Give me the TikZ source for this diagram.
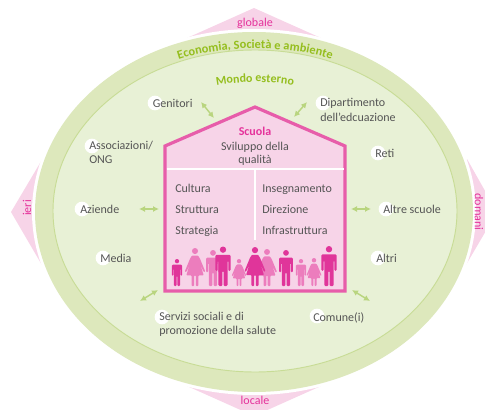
\documentclass[tikz,border=0pt]{standalone}
\usepackage{fontspec}
\setmainfont{Carlito}
\usetikzlibrary{decorations.text,arrows.meta}
\definecolor{ringg}{HTML}{DDE8BC}
\definecolor{innerg}{HTML}{E8F1D6}
\definecolor{lineg}{HTML}{C8DC96}
\definecolor{arrowg}{HTML}{B9D57F}
\definecolor{textg}{HTML}{95BE1E}
\definecolor{pinkf}{HTML}{F7D4E8}
\definecolor{pinkl}{HTML}{E75DAA}
\definecolor{pinkt}{HTML}{E5329B}
\definecolor{pdark}{HTML}{E0359A}
\definecolor{pmid}{HTML}{EC7DBD}
\definecolor{darkt}{HTML}{555555}
\newcommand\pman[4]{\begin{scope}[shift={(#1,#2)},scale=#3]
\fill[#4] (0,.08) circle (.08);
\fill[#4,rounded corners=.8pt] (-.19,.21) -- (.19,.21) -- (.19,.62) -- (.135,.62) -- (.135,.36) -- (.115,.36) -- (.115,1) -- (.015,1) -- (.015,.62) -- (-.015,.62) -- (-.015,1) -- (-.115,1) -- (-.115,.36) -- (-.135,.36) -- (-.135,.62) -- (-.19,.62) -- cycle;
\end{scope}}
\newcommand\pwoman[4]{\begin{scope}[shift={(#1,#2)},scale=#3]
\fill[#4] (0,.08) circle (.08);
\fill[#4,rounded corners=.6pt] (-.08,.2) -- (.08,.2) -- (.13,.28) -- (.27,.62) -- (.235,.64) -- (.14,.44) -- (.23,.72) -- (.09,.72) -- (.09,1) -- (.02,1) -- (.02,.72) -- (-.02,.72) -- (-.02,1) -- (-.09,1) -- (-.09,.72) -- (-.23,.72) -- (-.14,.44) -- (-.235,.64) -- (-.27,.62) -- (-.13,.28) -- cycle;
\end{scope}}
\tikzset{
  lab/.style={anchor=base west,text=darkt,font=\fontsize{9pt}{10.9pt}\selectfont,inner sep=0pt,align=left},
  hlab/.style={anchor=base,text=darkt,font=\fontsize{9pt}{10pt}\selectfont,inner sep=0pt,align=center},
  dot/.style={circle,fill=white,inner sep=0pt,minimum size=11pt},
  side/.style={text=pinkt,font=\fontsize{9pt}{10pt}\selectfont,inner sep=0pt},
  link/.style={draw=arrowg,line width=1.1pt,{Latex[length=4.5pt,width=4.5pt]}-{Latex[length=4.5pt,width=4.5pt]}},
}
\begin{document}
\begin{tikzpicture}[x=.75pt,y=-.75pt]
\useasboundingbox (0,0) rectangle (485,410);
\clip (0,0) rectangle (485,410);
% time/space triangles
\fill[pinkf] (254,8) -- (330,42) -- (178,42) -- cycle;
\fill[pinkf] (254,416) -- (330,382) -- (178,382) -- cycle;
\fill[pinkf] (11,212) -- (43,158) -- (46,272) -- cycle;
\fill[pinkf] (497,212) -- (467,159) -- (463,270) -- cycle;
\fill[white] (254,212) ellipse (222 and 183);
\fill[ringg] (254,212) ellipse (219 and 180);
\filldraw[fill=innerg,draw=lineg,line width=.7pt] (255,211) ellipse (202 and 161);
% curved titles
\path[postaction={decorate,decoration={text along path,text align=center,
  text={|\fontsize{9.3pt}{10pt}\selectfont\bfseries\color{textg}|Economia, Società e ambiente}}}]
  (170,62.5) .. controls (215,44) and (295,44) .. (340,62.5);
\path[postaction={decorate,decoration={text along path,text align=center,
  text={|\fontsize{9pt}{10pt}\selectfont\bfseries\color{textg}|Mondo esterno}}}]
  (205,88) .. controls (235,80) and (275,80) .. (305,88);
% side labels
\node[side] (globale) at (255,23) {globale};
\node[side] (locale) at (255,400) {locale};
\node[side,rotate=90] (ieri) at (27,208) {ieri};
\node[side,rotate=-90] (domani) at (479,212) {domani};
% house
\filldraw[fill=pinkf,draw=pinkl,line width=2.4pt,miter limit=4] (165,291) -- (165,146) -- (255,107) -- (345,146) -- (345,291) -- cycle;
\draw[white,line width=1.3pt] (166.5,169) -- (343.5,169);
\draw[white,line width=1.3pt] (255,169) -- (255,240);
\node[anchor=base,text=pinkt,font=\fontsize{9pt}{10pt}\selectfont\bfseries,inner sep=0pt] (scuola) at (255,135) {Scuola};
\node[hlab] (sviluppo) at (255,150) {Sviluppo della};
\node[hlab] (qualita) at (255,163) {qualità};
\node[lab] (cultura) at (175,192) {Cultura};
\node[lab] (struttura) at (175,213) {Struttura};
\node[lab] (strategia) at (175,234) {Strategia};
\node[lab] (insegn) at (262,192) {Insegnamento};
\node[lab] (direzione) at (262,213) {Direzione};
\node[lab] (infra) at (262,234) {Infrastruttura};
% people
\pman{177}{259}{27}{pdark}
\pwoman{195}{248}{38}{pmid}
\pman{213}{250}{36}{pmid}
\pman{223}{246.5}{39.5}{pdark}
\pwoman{239}{259}{27}{pmid}
\pwoman{267}{249}{37}{pmid}
\pwoman{255}{247}{39}{pdark}
\pman{286}{250}{36}{pdark}
\pman{301}{259}{27}{pmid}
\pwoman{314}{258}{28}{pmid}
\pman{329}{246}{40}{pdark}
% white dots behind labels
\node[dot] (d1) at (155,103) {};
\node[dot] (d2) at (92,146) {};
\node[dot] (d3) at (82,209) {};
\node[dot] (d4) at (103,258) {};
\node[dot] (d5) at (162,317) {};
\node[dot] (d6) at (317,316) {};
\node[dot] (d7) at (378,258) {};
\node[dot] (d8) at (386,209) {};
\node[dot] (d9) at (378,153) {};
\node[dot] (d10) at (323,103) {};
% outside labels
\node[lab] (genitori) at (152.5,107) {Genitori};
\node[lab,anchor=north west] (assoc) at (89,140.5) {Associazioni/\\ONG};
\node[lab] (aziende) at (80,213) {Aziende};
\node[lab] (media) at (100,262) {Media};
\node[lab,anchor=north west] (servizi) at (159,311.5) {Servizi sociali e di\\promozione della salute};
\node[lab] (comune) at (313,321) {Comune(i)};
\node[lab] (altri) at (376,262) {Altri};
\node[lab] (altre) at (383,213) {Altre scuole};
\node[lab] (reti) at (375,157) {Reti};
\node[lab,anchor=north west] (dip) at (320,98) {Dipartimento\\dell’edcuazione};
% links
\coordinate (a1) at (201,102); \coordinate (b1) at (214,118);
\coordinate (a2) at (307,102); \coordinate (b2) at (294,117);
\coordinate (a3) at (139,209); \coordinate (b3) at (159,209);
\coordinate (a4) at (351,209); \coordinate (b4) at (371,209);
\coordinate (a5) at (140,301); \coordinate (b5) at (158,290);
\coordinate (a6) at (352,290); \coordinate (b6) at (370,301);
\draw[link] (a1) -- (b1);
\draw[link] (a2) -- (b2);
\draw[link] (a3) -- (b3);
\draw[link] (a4) -- (b4);
\draw[link] (a5) -- (b5);
\draw[link] (a6) -- (b6);
\end{tikzpicture}
\end{document}
